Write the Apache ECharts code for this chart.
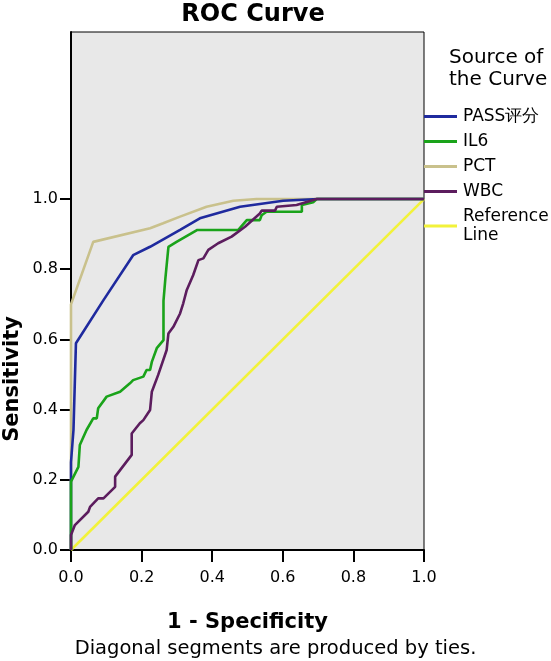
<!DOCTYPE html>
<html>
<head>
<meta charset="utf-8">
<script src="https://cdn.jsdelivr.net/npm/echarts@6/dist/echarts.min.js"></script>
<style>html,body{margin:0;padding:0;background:#fff;}#c{width:551px;height:661px;}</style>
</head>
<body>
<div id="c"></div>
<script>
// ---- data ----
const seriesNames = ['PASS评分', 'IL6', 'PCT', 'WBC', 'Reference\nLine'];
const passPoints = [[0,0],[0,0.25],[0.007,0.342],[0.014,0.589],[0.092,0.712],[0.176,0.840],[0.224,0.864],[0.309,0.912],[0.365,0.945],[0.479,0.978],[0.601,0.995],[0.70,1.0],[1,1]];
const il6Points = [[0,0],[0,0.195],[0.021,0.237],[0.025,0.299],[0.044,0.342],[0.063,0.375],[0.073,0.375],[0.077,0.404],[0.101,0.437],[0.139,0.451],[0.167,0.475],[0.176,0.484],[0.205,0.494],[0.214,0.513],[0.224,0.513],[0.229,0.536],[0.243,0.575],[0.262,0.598],[0.262,0.71],[0.267,0.77],[0.276,0.864],[0.299,0.878],[0.358,0.912],[0.474,0.912],[0.498,0.940],[0.535,0.940],[0.540,0.954],[0.554,0.964],[0.654,0.964],[0.654,0.983],[0.686,0.991],[0.696,1.0],[1,1]];
const pctPoints = [[0,0],[0,0.70],[0.063,0.878],[0.224,0.917],[0.261,0.931],[0.309,0.950],[0.384,0.978],[0.46,0.995],[0.526,1.0],[1,1]];
const wbcPoints = [[0,0],[0,0.043],[0.011,0.071],[0.049,0.109],[0.054,0.123],[0.077,0.147],[0.092,0.147],[0.125,0.180],[0.125,0.209],[0.172,0.271],[0.172,0.332],[0.195,0.361],[0.205,0.370],[0.224,0.399],[0.229,0.399],[0.229,0.451],[0.247,0.499],[0.271,0.570],[0.276,0.617],[0.290,0.636],[0.309,0.674],[0.318,0.703],[0.328,0.741],[0.346,0.783],[0.361,0.826],[0.375,0.831],[0.389,0.855],[0.417,0.874],[0.455,0.893],[0.493,0.921],[0.535,0.959],[0.540,0.967],[0.578,0.967],[0.583,0.978],[0.639,0.983],[0.696,1.0],[1,1]];
const refPoints = [[0,0],[1,1]];
const tickValues = [0, 0.2, 0.4, 0.6, 0.8, 1.0];

const FONT = 'DejaVu Sans';
const chart = echarts.init(document.getElementById('c'), null, {renderer: 'canvas'});

function lineSeries(name, data, color, z) {
  return {
    name: name, type: 'line', data: data, showSymbol: false, symbol: 'none',
    lineStyle: {color: color, width: 2.6}, itemStyle: {color: color},
    z: z, animation: false
  };
}

chart.setOption({
  backgroundColor: '#ffffff',
  animation: false,
  textStyle: {fontFamily: FONT, color: '#000'},
  title: [
    {text: 'ROC Curve', left: 248, textAlign: 'center', top: -2,
     textStyle: {fontFamily: FONT, fontWeight: 'bold', fontSize: 24, color: '#000'}},
    {text: 'Source of\nthe Curve', left: 449, top: 47, padding: 0,
     textStyle: {fontFamily: FONT, fontWeight: 'normal', fontSize: 20, lineHeight: 22, color: '#000'}}
  ],
  legend: {
    orient: 'vertical', left: 424, top: 107, padding: 0,
    itemWidth: 33, itemHeight: 3, itemGap: 6,
    icon: 'rect',
    data: seriesNames,
    textStyle: {fontFamily: FONT, fontSize: 17, lineHeight: 19, color: '#000', padding: [0,0,0,1]}
  },
  grid: {left: 71, right: 127, top: 32, bottom: 111, show: true,
         backgroundColor: '#e8e8e8', borderColor: '#000', borderWidth: 1},
  xAxis: {
    type: 'value', min: 0, max: 1, interval: 0.2,
    axisLine: {show: true, lineStyle: {color: '#000', width: 2}},
    axisTick: {show: true, length: 12, lineStyle: {color: '#000', width: 2}},
    axisLabel: {fontFamily: FONT, fontSize: 16, color: '#000', margin: 20,
                formatter: v => v.toFixed(1)},
    splitLine: {show: false},
    name: '1 - Specificity', nameLocation: 'middle', nameGap: 62,
    nameTextStyle: {fontFamily: FONT, fontWeight: 'bold', fontSize: 21, color: '#000'}
  },
  yAxis: {
    type: 'value', min: 0, max: 1.476, interval: 0.2,
    axisLine: {show: true, lineStyle: {color: '#000', width: 2}},
    axisTick: {show: true, length: 11, customValues: tickValues, lineStyle: {color: '#000', width: 2}},
    axisLabel: {fontFamily: FONT, fontSize: 16, color: '#000', margin: 13, customValues: tickValues,
                formatter: v => v.toFixed(1)},
    splitLine: {show: false}
  },
  graphic: [
    {type: 'text', left: 2, top: 316, rotation: Math.PI / 2,
     style: {text: 'Sensitivity', fontFamily: FONT, fontWeight: 'bold', fontSize: 21, fill: '#000'}},
    {type: 'text', left: 'center', top: 639,
     style: {text: 'Diagonal segments are produced by ties.', fontFamily: FONT, fontSize: 19.5, fill: '#000'}}
  ],
  series: [
    lineSeries(seriesNames[0], passPoints, '#1f2a9e', 3),
    lineSeries(seriesNames[1], il6Points, '#1aa31a', 4),
    lineSeries(seriesNames[2], pctPoints, '#c9c18c', 2),
    lineSeries(seriesNames[3], wbcPoints, '#5c1d5e', 5),
    lineSeries(seriesNames[4], refPoints, '#f2f23a', 1)
  ]
});
</script>
</body>
</html>
